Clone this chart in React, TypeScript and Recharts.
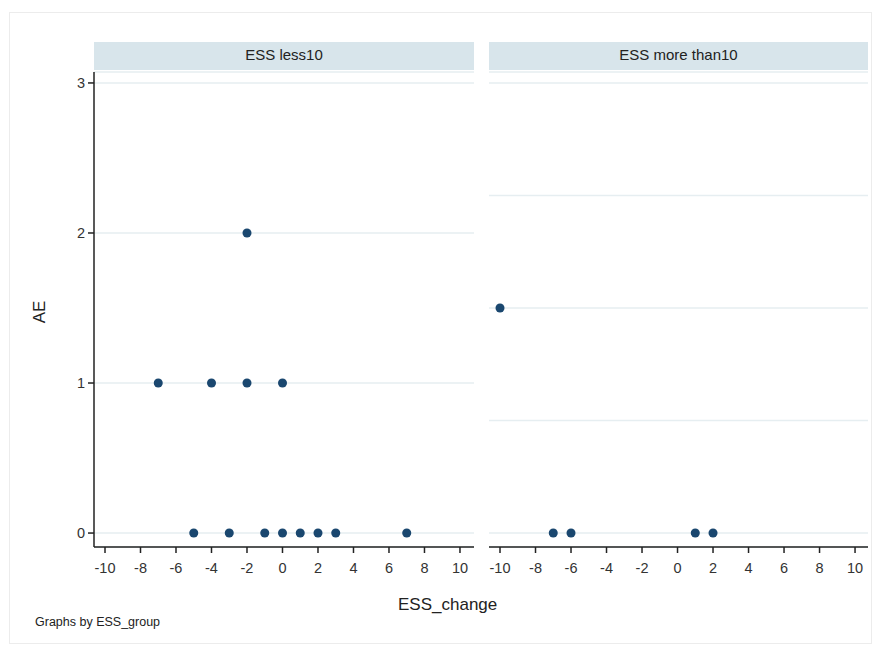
import React from 'react';
import { ScatterChart, Scatter, XAxis, YAxis, ZAxis, CartesianGrid } from 'recharts';

// ESS less10 panel
const lessChange = [-7, -4, -2, 0, -2, -5, -3, -1, 0, 1, 2, 3, 7];
const lessAE = [1, 1, 1, 1, 2, 0, 0, 0, 0, 0, 0, 0, 0];

// ESS more than10 panel
const moreChange = [-10, -7, -6, 1, 2];
const moreAE = [1.5, 0, 0, 0, 0];

const xTicks = [-10, -8, -6, -4, -2, 0, 2, 4, 6, 8, 10];
const yTicksLeft = [0, 1, 2, 3];
const yTicksRight = [0, 0.75, 1.5, 2.25, 3];

const X_DOMAIN: [number, number] = [-10.62, 10.79];
const Y_DOMAIN: [number, number] = [-0.093, 3.073];

const FONT = '"Liberation Sans", Arial, sans-serif';
const DOT = '#1a476f';
const GRID = '#e6eef1';
const STRIP = '#d8e5eb';

const lessData = lessChange.map((x, i) => ({ x, y: lessAE[i] }));
const moreData = moreChange.map((x, i) => ({ x, y: moreAE[i] }));

const tickStyle = { fontSize: 14.5, fill: '#333', fontFamily: FONT };

function Strip({ left, width, text }: { left: number; width: number; text: string }) {
  return (
    <div
      style={{
        position: 'absolute',
        left,
        top: 42,
        width,
        height: 28,
        background: STRIP,
        fontFamily: FONT,
        fontSize: 15,
        color: '#222',
        textAlign: 'center',
        lineHeight: '26px',
      }}
    >
      {text}
    </div>
  );
}

export default function App() {
  return (
    <div style={{ position: 'absolute', left: 0, top: 0, width: 881, height: 650, background: '#fff' }}>
      <div
        style={{
          position: 'absolute',
          left: 9,
          top: 12,
          width: 863,
          height: 632,
          border: '1px solid #ececec',
          boxSizing: 'border-box',
        }}
      />
      <Strip left={94} width={380} text="ESS less10" />
      <Strip left={489} width={379} text="ESS more than10" />

      {/* left panel */}
      <div style={{ position: 'absolute', left: 0, top: 0 }}>
        <ScatterChart width={480} height={580} margin={{ top: 72, right: 6, bottom: 3, left: 34 }}>
          <CartesianGrid horizontal vertical={false} stroke={GRID} strokeWidth={1.5} />
          <XAxis
            type="number"
            dataKey="x"
            domain={X_DOMAIN}
            ticks={xTicks}
            allowDataOverflow
            height={30}
            tick={tickStyle}
            tickMargin={10}
            tickSize={6}
            stroke="#222"
            strokeWidth={1.5}
          />
          <YAxis
            type="number"
            dataKey="y"
            domain={Y_DOMAIN}
            ticks={yTicksLeft}
            allowDataOverflow
            width={60}
            tick={tickStyle}
            tickSize={6}
            tickMargin={3}
            stroke="#222"
            strokeWidth={1.5}
          />
          <ZAxis range={[90, 90]} />
          <Scatter data={lessData} fill={DOT} shape="circle" isAnimationActive={false} />
        </ScatterChart>
      </div>

      {/* right panel */}
      <div style={{ position: 'absolute', left: 480, top: 0 }}>
        <ScatterChart width={400} height={580} margin={{ top: 72, right: 12, bottom: 3, left: 9 }}>
          <CartesianGrid horizontal vertical={false} stroke={GRID} strokeWidth={1.5} />
          <XAxis
            type="number"
            dataKey="x"
            domain={[-10.62, 10.73]}
            ticks={xTicks}
            allowDataOverflow
            height={30}
            tick={tickStyle}
            tickMargin={10}
            tickSize={6}
            stroke="#222"
            strokeWidth={1.5}
          />
          <YAxis
            type="number"
            dataKey="y"
            domain={Y_DOMAIN}
            ticks={yTicksRight}
            allowDataOverflow
            hide
          />
          <ZAxis range={[90, 90]} />
          <Scatter data={moreData} fill={DOT} shape="circle" isAnimationActive={false} />
        </ScatterChart>
      </div>

      <div
        style={{
          position: 'absolute',
          left: 40,
          top: 312,
          transform: 'translate(-50%, -50%) rotate(-90deg)',
          fontFamily: FONT,
          fontSize: 17,
          color: '#222',
          whiteSpace: 'nowrap',
        }}
      >
        AE
      </div>
      <div
        style={{
          position: 'absolute',
          left: 398,
          top: 595,
          fontFamily: FONT,
          fontSize: 17,
          color: '#222',
          whiteSpace: 'nowrap',
        }}
      >
        ESS_change
      </div>
      <div
        style={{
          position: 'absolute',
          left: 35,
          top: 615,
          fontFamily: FONT,
          fontSize: 12.5,
          color: '#222',
          whiteSpace: 'nowrap',
        }}
      >
        Graphs by ESS_group
      </div>
    </div>
  );
}
